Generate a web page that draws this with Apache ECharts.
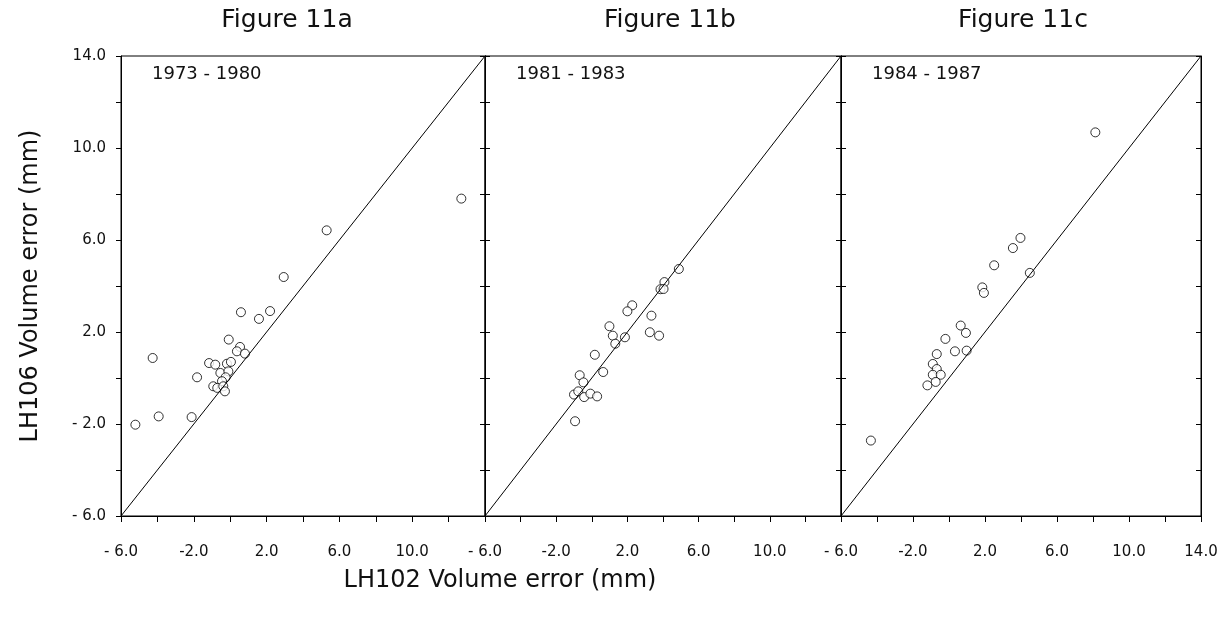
<!DOCTYPE html>
<html><head><meta charset="utf-8">
<script src="https://cdn.jsdelivr.net/npm/echarts@6/dist/echarts.min.js"></script>
<style>html,body{margin:0;padding:0;background:#fff}#c{width:1228px;height:617px}</style>
</head><body><div id="c"></div>
<script>
const panelTitles = ['Figure 11a', 'Figure 11b', 'Figure 11c'];
const periods = ['1973 - 1980', '1981 - 1983', '1984 - 1987'];
const xTitle = 'LH102 Volume error (mm)';
const yTitle = 'LH106 Volume error (mm)';
const axisMin = -6, axisMax = 14;
const diagonal = [[-6, -6], [14, 14]];

const panelA = [[12.7,7.8],[5.3,6.42],[2.94,4.39],[0.59,2.86],[1.58,2.57],[2.19,2.91],[-0.08,1.67],
  [-4.26,0.87],[0.54,1.35],[0.37,1.16],[0.81,1.06],[-1.16,0.65],[-0.82,0.58],[-0.18,0.62],[0.04,0.70],
  [-0.54,0.22],[-0.10,0.29],[-1.82,0.03],[-0.25,0.03],[-0.45,-0.14],[-0.93,-0.36],[-0.71,-0.43],
  [-0.38,-0.36],[-0.29,-0.58],[-3.93,-1.67],[-2.12,-1.70],[-5.21,-2.03]];
const panelB = [[4.89,4.74],[4.08,4.17],[3.86,3.86],[4.03,3.87],[2.27,3.16],[2.00,2.90],[3.35,2.71],
  [0.99,2.25],[1.18,1.84],[1.86,1.77],[1.32,1.49],[3.26,1.99],[3.78,1.84],[0.17,1.01],[0.64,0.26],
  [-0.68,0.12],[-0.47,-0.19],[-1.0,-0.72],[-0.76,-0.58],[-0.43,-0.83],[-0.08,-0.68],[0.30,-0.80],
  [-0.94,-1.88]];
const panelC = [[8.13,10.68],[3.97,6.09],[3.55,5.65],[2.51,4.90],[4.49,4.57],[1.85,3.94],[1.94,3.70],
  [0.65,2.28],[0.94,1.96],[-0.20,1.70],[0.33,1.16],[0.98,1.19],[-0.68,1.04],[-0.90,0.61],[-0.68,0.39],
  [-0.90,0.14],[-0.46,0.14],[-0.74,-0.17],[-1.20,-0.32],[-4.34,-2.72]];
const panels = [panelA, panelB, panelC];

const FONT = '"DejaVu Sans", Verdana, sans-serif';
const gridPos = [{left:121,width:364},{left:485,width:356},{left:841,width:360}];
const titleCenters = [282, 665, 1018];
const fmt = v => { if ((v - axisMin) % 4 !== 0) return ''; const s = Math.abs(v).toFixed(1); return v < 0 ? (v === -6 ? '- ' + s : '-' + s) : s; };
const fmtY = v => { if ((v - axisMin) % 4 !== 0) return ''; const s = Math.abs(v).toFixed(1); return v < 0 ? '- ' + s : s; };

const grid = [], xAxis = [], yAxis = [], series = [], title = [];
panels.forEach((pts, i) => {
  grid.push({left: gridPos[i].left, width: gridPos[i].width, top: 56, height: 460,
    show: true, borderColor: '#000', borderWidth: 1, backgroundColor: 'transparent'});
  xAxis.push({type:'value', gridIndex:i, min:axisMin, max:axisMax, interval:2,
    axisLine:{show:true, onZero:false, lineStyle:{color:'#000', width:1}},
    axisTick:{show:true, inside:false, length:6, lineStyle:{color:'#000'}},
    splitLine:{show:false},
    axisLabel:{show:true, margin:29, color:'#111', fontSize:15, fontFamily:FONT,
      formatter: v => (i < 2 && v === axisMax) ? '' : fmt(v)}});
  yAxis.push({type:'value', gridIndex:i, min:axisMin, max:axisMax, interval:2,
    axisLine:{show:true, onZero:false, lineStyle:{color:'#000', width:1}},
    axisTick:{show:true, inside: i > 0, length:5, lineStyle:{color:'#000'}},
    splitLine:{show:false},
    axisLabel:{show: i === 0, margin:15, color:'#111', fontSize:15, fontFamily:FONT, formatter: fmtY},
    name: i === 0 ? yTitle : '', nameLocation:'middle', nameGap:78, nameRotate:90,
    nameTextStyle:{color:'#111', fontSize:24, fontFamily:FONT}});
  yAxis.push({type:'value', gridIndex:i, position:'right', min:axisMin, max:axisMax, interval:2,
    axisLine:{show:true, onZero:false, lineStyle:{color:'#000', width:1}},
    axisTick:{show:true, inside:true, length:5, lineStyle:{color:'#000'}},
    splitLine:{show:false}, axisLabel:{show:false}});
  series.push({type:'line', xAxisIndex:i, yAxisIndex:2*i, data:diagonal, symbol:'none',
    lineStyle:{color:'#000', width:1}, silent:true});
  series.push({type:'scatter', xAxisIndex:i, yAxisIndex:2*i, data:pts, symbol:'circle', symbolSize:9,
    itemStyle:{color:'#fff', borderColor:'#000', borderWidth:1}});
  title.push({text: panelTitles[i], left: titleCenters[i], top: 3, textAlign:'center',
    textStyle:{color:'#111', fontSize:25, fontWeight:'normal', fontFamily:FONT}});
  title.push({text: periods[i], left: gridPos[i].left + 26, top: 60,
    textStyle:{color:'#111', fontSize:18, fontWeight:'normal', fontFamily:FONT}});
});
title.push({text: xTitle, left: 495, top: 564, textAlign:'center',
  textStyle:{color:'#111', fontSize:24, fontWeight:'normal', fontFamily:FONT}});

const chart = echarts.init(document.getElementById('c'), null, {renderer:'canvas'});
chart.setOption({backgroundColor:'#fff', animation:false, title, grid, xAxis, yAxis, series});
</script></body></html>
